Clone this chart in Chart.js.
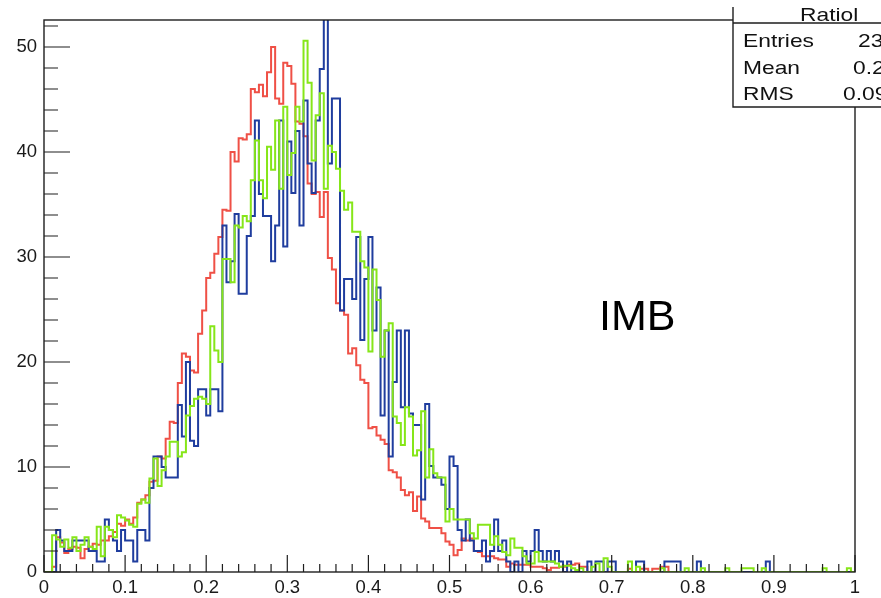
<!DOCTYPE html>
<html>
<head>
<meta charset="utf-8">
<title>Ratio histogram - IMB</title>
<script src="https://cdn.jsdelivr.net/npm/chart.js@4.4.1/dist/chart.umd.min.js"></script>
<style>
  html, body { margin: 0; padding: 0; background: #fff; }
  #wrap { width: 881px; height: 598px; }
</style>
</head>
<body>
<div id="wrap"><canvas id="ratioChart" width="881" height="598"></canvas></div>
<script>
// 200 bins from 0 to 1
const BIN_WIDTH = 0.005;

// red histogram, one value per bin
const redCounts = [
  0, 0, 0.5, 3.3, 2.8, 1.8, 2.2, 2.4, 2.3, 1.3,
  2.2, 2.4, 2.7, 2.6, 3.0, 3.0, 3.4, 3.8, 4.6, 4.4,
  5.0, 4.6, 5.2, 6.6, 6.9, 7.3, 8.6, 8.7, 11.0, 10.8,
  12.7, 14.3, 14.2, 18.0, 20.8, 20.5, 19.2, 19.0, 22.7, 24.9,
  28.0, 28.5, 30.3, 31.9, 34.5, 34.4, 40.0, 39.1, 41.3, 41.2,
  41.7, 46.0, 45.7, 46.4, 45.3, 47.6, 50.0, 45.1, 44.6, 48.5,
  48.2, 46.5, 42.9, 42.7, 41.5, 37.0, 36.0, 36.2, 33.8, 36.2,
  29.9, 28.8, 25.6, 24.9, 24.5, 20.8, 21.3, 19.7, 18.3, 18.0,
  13.7, 13.8, 13.0, 12.6, 12.2, 9.7, 9.5, 9.0, 7.8, 7.3,
  7.6, 5.8, 7.2, 5.1, 4.8, 4.2, 4.2, 4.2, 3.7, 2.9,
  2.6, 1.6, 2.1, 3.2, 3.0, 3.2, 2.0, 1.9, 1.5, 1.5,
  1.5, 1.3, 1.2, 1.2, 0.5, 0.8, 0.7, 0.7, 0.7, 0.7,
  0.5, 0.5, 0.5, 0.35, 0.2, 0.4, 0.4, 0.5, 0.5, 0.7,
  0.7, 0.8, 0.5, 0.5, 0, 0, 0, 0, 0, 0,
  0, 0, 0, 0, 0.3, 0, 0, 0.3, 0.3, 0,
  0.3, 0.3, 0.5, 0.5, 0, 0, 0, 0, 0, 0,
  0, 0, 0, 0, 0, 0, 0, 0, 0, 0,
  0, 0, 0, 0, 0, 0, 0, 0, 0, 0,
  0, 0, 0, 0, 0, 0, 0, 0, 0, 0,
  0, 0, 0, 0, 0, 0, 0, 0, 0, 0
];

// blue histogram
const blueCounts = [
  0, 0, 0, 4.0, 3.0, 2.0, 2.0, 3.0, 3.0, 3.0,
  3.0, 2.0, 2.0, 1.0, 1.0, 5.0, 4.0, 3.0, 2.0, 4.0,
  3.0, 3.0, 1.0, 4.0, 4.0, 3.0, 8.0, 11.0, 11.0, 10.0,
  9.0, 9.0, 9.0, 15.9, 12.9, 20.0, 12.5, 12.0, 17.4, 17.4,
  14.9, 17.4, 17.4, 15.3, 33.0, 27.6, 29.6, 34.1, 26.5, 26.5,
  32.0, 33.9, 43.0, 36.0, 33.9, 33.9, 29.6, 33.0, 43.0, 31.0,
  41.0, 36.1, 42.0, 33.0, 44.9, 38.9, 36.1, 43.0, 47.9, 53.5,
  38.9, 45.1, 45.1, 24.9, 27.9, 27.9, 26.0, 31.9, 22.1, 27.9,
  31.9, 23.0, 27.1, 14.9, 23.0, 11.0, 18.1, 23.0, 15.7, 23.0,
  15.1, 14.0, 14.0, 6.9, 16.0, 10.1, 9.0, 9.0, 8.3, 6.0,
  11.0, 10.1, 4.0, 3.0, 5.0, 3.0, 2.0, 2.0, 3.0, 1.0,
  2.0, 5.0, 2.0, 3.0, 1.0, 0, 1.0, 0, 2.0, 1.0,
  2.0, 4.0, 2.0, 1.0, 2.0, 1.0, 2.0, 1.0, 0, 1.0,
  0, 0, 0, 0, 1.0, 0, 1.0, 1.0, 0, 1.0,
  1.0, 0, 0, 0, 0, 0, 1.0, 1.0, 0, 0,
  0, 0, 0, 1.0, 1.0, 1.0, 1.0, 0, 0, 0,
  0, 1.0, 0, 0, 0, 0, 0, 0, 0, 0,
  0, 0, 0, 0, 0, 0, 0, 0, 1.0, 0,
  0, 0, 0, 0, 0, 0, 0, 0, 0, 0,
  0, 0, 0, 0, 0, 0, 0, 0, 0, 0
];

// green histogram
const greenCounts = [
  0, 0, 3.5, 3.1, 2.4, 3.1, 2.3, 3.3, 2.0, 2.6,
  3.3, 2.4, 2.2, 4.3, 1.5, 4.3, 4.0, 3.3, 5.4, 5.2,
  4.9, 4.5, 4.3, 6.5, 6.9, 6.6, 8.9, 10.8, 8.2, 9.7,
  11.0, 12.4, 12.4, 11.0, 11.4, 14.9, 15.8, 16.5, 16.7, 16.5,
  16.0, 23.4, 21.1, 20.0, 29.8, 29.8, 27.6, 33.0, 32.8, 33.9,
  33.4, 37.3, 41.1, 37.3, 35.6, 40.5, 38.3, 43.0, 36.5, 44.3,
  37.8, 39.9, 44.3, 42.9, 50.6, 46.6, 39.2, 43.5, 45.6, 36.5,
  40.6, 40.0, 38.4, 36.3, 34.5, 35.2, 32.4, 32.4, 29.6, 29.0,
  21.0, 28.8, 25.9, 20.5, 23.0, 23.7, 14.8, 14.2, 12.1, 15.7,
  14.8, 11.1, 11.6, 15.3, 9.0, 11.7, 9.4, 9.0, 9.0, 4.8,
  6.0, 5.0, 5.0, 5.0, 5.0, 3.7, 3.2, 4.5, 4.5, 4.5,
  2.6, 3.4, 2.6, 1.9, 1.6, 3.2, 2.3, 2.3, 1.5, 0.8,
  0.8, 1.9, 1.0, 1.0, 1.0, 1.0, 0.8, 0.5, 0.6, 0.6,
  0.35, 0.2, 0.35, 0, 0, 0.5, 0.8, 0, 1.3, 0.5,
  0, 0, 0, 0, 1.0, 0, 0.5, 0, 0, 0,
  0, 0, 0.35, 0, 0, 0, 0, 0, 0.35, 0,
  0, 0, 0.35, 0, 0, 0, 0, 0, 0.35, 0,
  0, 0, 0.35, 0.35, 0.35, 0, 0, 0.35, 0, 0,
  0, 0, 0, 0, 0, 0, 0, 0, 0, 0,
  0, 0, 0.35, 0, 0, 0, 0, 0, 0.35, 0
];

const xTickLabels = ['0', '0.1', '0.2', '0.3', '0.4', '0.5', '0.6', '0.7', '0.8', '0.9', '1'];
const yTickLabels = ['0', '10', '20', '30', '40', '50'];

// stats box (partly cut off at the right edge in the original)
const statsTitle = 'Ratiol';
const statsNames = ['Entries', 'Mean', 'RMS'];
const statsValues = ['23', '0.2', '0.09'];
const noteText = 'IMB';

const RED = '#ef5046';
const BLUE = '#1f3d9e';
const GREEN = '#86e619';
const FONT = "'Liberation Sans', Arial, Helvetica, sans-serif";

// histogram outline: one point per lower bin edge, plus the last upper edge
function toSteps(vals) {
    const pts = vals.map((v, i) => ({ x: i * BIN_WIDTH, y: v }));
    pts.push({ x: vals.length * BIN_WIDTH, y: vals[vals.length - 1] });
    return pts;
}

function stretchedText(ctx, text, x, y, sx) {
    ctx.save();
    ctx.translate(x, y);
    ctx.scale(sx, 1);
    ctx.fillText(text, 0, 0);
    ctx.restore();
}

// ROOT style frame with ticks pointing inwards, stats box and label
const rootFrame = {
    id: 'rootFrame',
    afterDatasetsDraw(chart) {
        const { ctx, chartArea: a, scales: { x, y } } = chart;
        ctx.save();
        ctx.strokeStyle = '#1e1e1e';
        ctx.lineWidth = 1.2;
        ctx.beginPath();
        for (let i = 0; i <= 50; i++) {
            const px = x.getPixelForValue(i * 0.02);
            const len = i % 5 === 0 ? 17 : 8;
            ctx.moveTo(px, a.bottom);
            ctx.lineTo(px, a.bottom - len);
        }
        for (let i = 0; i <= 26; i++) {
            const py = y.getPixelForValue(i * 2);
            const len = i % 5 === 0 ? 26 : 14;
            ctx.moveTo(a.left, py);
            ctx.lineTo(a.left + len, py);
        }
        ctx.stroke();
        ctx.lineWidth = 1.4;
        ctx.strokeRect(a.left, a.top, a.right - a.left, a.bottom - a.top);
        ctx.restore();
    },
    afterDraw(chart) {
        const { ctx, chartArea: a, width } = chart;
        const boxLeft = a.right - 122;
        const boxTop = 7;
        const boxBottom = a.top + 87;
        ctx.save();
        ctx.fillStyle = '#fff';
        ctx.fillRect(boxLeft, boxTop, width - boxLeft, boxBottom - boxTop);

        ctx.fillStyle = '#111';
        ctx.font = '19px ' + FONT;
        ctx.textBaseline = 'alphabetic';
        ctx.textAlign = 'left';
        stretchedText(ctx, statsTitle, boxLeft + 67, boxTop + 14, 1.2);
        const rows = [47, 74, 100];
        statsNames.forEach((name, i) => {
            stretchedText(ctx, name, boxLeft + 10, rows[i], 1.2);
        });
        const valX = [858, 853, 843];
        statsValues.forEach((val, i) => {
            stretchedText(ctx, val, valX[i], rows[i], 1.2);
        });

        // picture was cut above the box
        ctx.fillStyle = '#fff';
        ctx.fillRect(boxLeft - 2, 0, width - boxLeft + 2, boxTop);

        ctx.strokeStyle = '#1e1e1e';
        ctx.lineWidth = 1.4;
        ctx.beginPath();
        ctx.moveTo(boxLeft, boxTop);
        ctx.lineTo(boxLeft, boxBottom);
        ctx.lineTo(width, boxBottom);
        ctx.moveTo(boxLeft, boxTop + 16);
        ctx.lineTo(width, boxTop + 16);
        ctx.stroke();

        ctx.fillStyle = '#000';
        ctx.font = '43px ' + FONT;
        ctx.fillText(noteText, 599, 330);
        ctx.restore();
    }
};

new Chart(document.getElementById('ratioChart'), {
    type: 'line',
    data: {
        datasets: [
            { label: 'green', data: toSteps(greenCounts), borderColor: GREEN },
            { label: 'blue', data: toSteps(blueCounts), borderColor: BLUE },
            { label: 'red', data: toSteps(redCounts), borderColor: RED }
        ]
    },
    options: {
        responsive: false,
        animation: false,
        devicePixelRatio: 1,
        layout: { padding: { top: 20, right: 26, bottom: 0, left: 0 } },
        plugins: {
            legend: { display: false },
            tooltip: { enabled: false }
        },
        elements: {
            point: { radius: 0 },
            line: { borderWidth: 2, tension: 0, fill: false, stepped: 'before' }
        },
        scales: {
            x: {
                type: 'linear',
                min: 0,
                max: 1,
                grid: { display: false, drawTicks: false },
                border: { display: false },
                ticks: {
                    stepSize: 0.1,
                    autoSkip: false,
                    maxRotation: 0,
                    padding: 5,
                    color: '#1a1a1a',
                    font: { family: FONT, size: 18.5 },
                    callback: function(value) {
                        return xTickLabels[Math.round(value * 10)] ?? '';
                    }
                },
                afterFit: function(scale) { scale.height = 26; }
            },
            y: {
                type: 'linear',
                min: 0,
                max: 52.57,
                grid: { display: false, drawTicks: false },
                border: { display: false },
                ticks: {
                    stepSize: 10,
                    includeBounds: false,
                    padding: 7,
                    color: '#1a1a1a',
                    font: { family: FONT, size: 18.5 },
                    callback: function(value) {
                        return yTickLabels[Math.round(value / 10)] ?? '';
                    }
                },
                afterFit: function(scale) { scale.width = 44; }
            }
        }
    },
    plugins: [rootFrame]
});
</script>
</body>
</html>
